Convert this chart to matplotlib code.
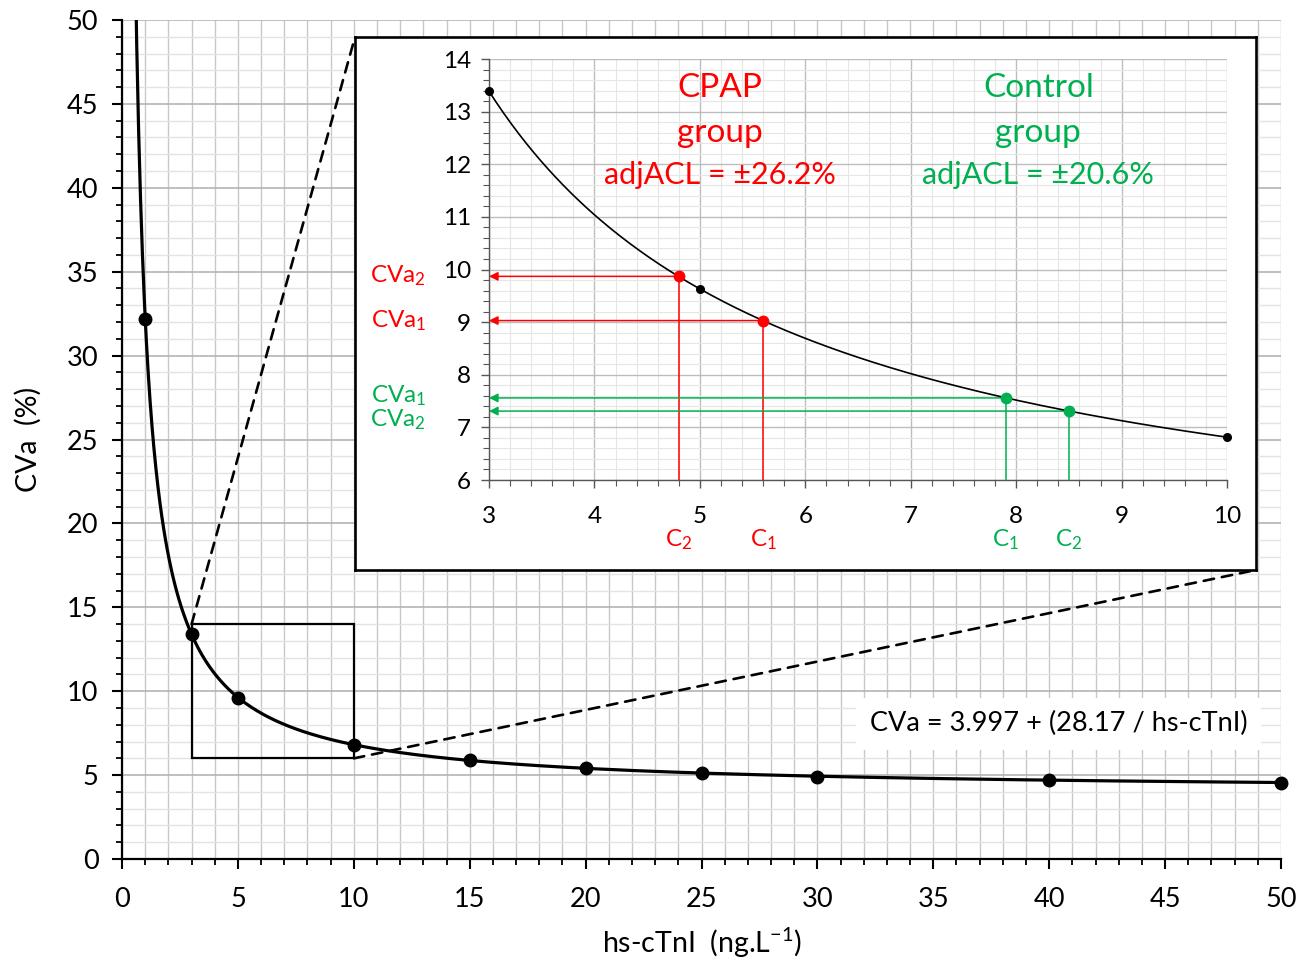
import numpy as np
import matplotlib
matplotlib.use("Agg")
import matplotlib.pyplot as plt
from matplotlib.patches import Rectangle, ConnectionPatch
from matplotlib.ticker import MultipleLocator

plt.rcParams['font.family'] = ['Lato', 'DejaVu Sans']
plt.rcParams['mathtext.default'] = 'regular'

# data
hs_ctni = [1, 3, 5, 10, 15, 20, 25, 30, 40, 50]
cva = [32.2, 13.4, 9.6, 6.8, 5.9, 5.4, 5.1, 4.9, 4.7, 4.56]
fit_a = 3.997
fit_b = 28.17
zoom_x = [3, 5, 10]
zoom_cva = [13.4, 9.63, 6.81]
cpap_c = [5.6, 4.8]
cpap_cva = [9.03, 9.87]
ctrl_c = [7.9, 8.5]
ctrl_cva = [7.56, 7.31]

RED = '#FF0000'
GREEN = '#00B050'

fig = plt.figure(figsize=(13.11, 9.61), dpi=100)

# main chart
ax = fig.add_axes([0.0931, 0.1061, 0.884, 0.8731])
xc = np.linspace(0.55, 50, 600)
ax.plot(xc, fit_a + fit_b / xc, color='black', lw=2.3, zorder=4)
ax.plot(hs_ctni, cva, 'o', color='black', ms=9, zorder=5, clip_on=False)
ax.set_xlim(0, 50)
ax.set_ylim(0, 50)
ax.xaxis.set_major_locator(MultipleLocator(5))
ax.xaxis.set_minor_locator(MultipleLocator(1))
ax.yaxis.set_major_locator(MultipleLocator(5))
ax.yaxis.set_minor_locator(MultipleLocator(1))
ax.grid(which='both', axis='x', color='#C8C8C8', lw=1.0)
ax.grid(which='major', axis='y', color='#B4B4B4', lw=1.2)
ax.grid(which='minor', axis='y', color='#E3E3E3', lw=1.0)
ax.set_axisbelow(True)
for s in ['top', 'right']:
    ax.spines[s].set_visible(False)
for s in ['left', 'bottom']:
    ax.spines[s].set_linewidth(1.6)
ax.tick_params(which='major', length=7, width=1.5, labelsize=19.5)
ax.tick_params(axis='x', which='major', pad=13)
ax.tick_params(axis='y', which='major', pad=10)
ax.tick_params(which='minor', length=4.5, width=1.3)
ax.set_xlabel('hs-cTnI  (ng.L$^{-1}$)', fontsize=20.5, labelpad=10)
ax.set_ylabel('CVa  (%)', fontsize=20.5, labelpad=18)
ax.add_patch(Rectangle((3, 6), 7, 8, fill=False, ec='black', lw=1.6, zorder=3))
ax.text(40.4, 8.05, 'CVa = 3.997 + (28.17 / hs-cTnI)', fontsize=19.5, ha='center',
        va='center', zorder=6,
        bbox=dict(boxstyle='square,pad=0.5', fc='white', ec='none'))

# frame of zoom panel
fl, fb, fr, ft = 0.2708, 0.4069, 0.958, 0.9615
frame = fig.add_axes([fl, fb, fr - fl, ft - fb], zorder=2)
frame.set_xticks([])
frame.set_yticks([])
for s in frame.spines.values():
    s.set_linewidth(1.9)

con1 = ConnectionPatch(xyA=(3, 14), coordsA=ax.transData, xyB=(fl, ft),
                       coordsB=fig.transFigure, ls=(0, (4, 3)), lw=1.9, color='black')
con2 = ConnectionPatch(xyA=(10, 6), coordsA=ax.transData, xyB=(fr, fb),
                       coordsB=fig.transFigure, ls=(0, (4, 3)), lw=1.9, color='black')
fig.add_artist(con1)
fig.add_artist(con2)

# zoom panel
ins = fig.add_axes([0.373, 0.5005, 0.563, 0.4381], zorder=3)
xi = np.linspace(3, 10, 300)
ins.plot(xi, fit_a + fit_b / xi, color='black', lw=1.2, zorder=4)
ins.plot(zoom_x, zoom_cva, 'o', color='black', ms=5.5, zorder=5, clip_on=False)
ins.set_xlim(3, 10)
ins.set_ylim(6, 14)
ins.xaxis.set_major_locator(MultipleLocator(1))
ins.xaxis.set_minor_locator(MultipleLocator(0.2))
ins.yaxis.set_major_locator(MultipleLocator(1))
ins.yaxis.set_minor_locator(MultipleLocator(0.2))
ins.grid(which='major', color='#BDBDBD', lw=1.0)
ins.grid(which='minor', color='#E6E6E6', lw=0.8)
ins.set_axisbelow(True)
for s in ['top', 'right']:
    ins.spines[s].set_visible(False)
for s in ['left', 'bottom']:
    ins.spines[s].set_color('#555555')
    ins.spines[s].set_linewidth(1.0)
ins.tick_params(which='major', length=6, width=1.0, color='#555555', labelsize=17.5)
ins.tick_params(which='minor', length=4.5, width=0.8, color='#555555')
ins.tick_params(axis='x', which='major', pad=13)
ins.tick_params(axis='y', which='major', pad=7)


def draw_group(cs, vs, color, ylab_pos):
    for i, (c, v) in enumerate(zip(cs, vs)):
        ins.annotate('', xy=(3, v), xytext=(c, v),
                     arrowprops=dict(arrowstyle='-|>', color=color, lw=1.1,
                                     mutation_scale=13, shrinkA=0, shrinkB=0),
                     zorder=3)
        ins.plot([c, c], [6, v], color=color, lw=1.1, zorder=3)
        ins.plot(c, v, 'o', color=color, ms=7.5, zorder=6)
        ins.text(c, 4.86, 'C$_{%d}$' % (i + 1), color=color, fontsize=17.5,
                 ha='center', va='center', clip_on=False)
        ins.text(2.14, ylab_pos[i], 'CVa$_{%d}$' % (i + 1), color=color,
                 fontsize=17.5, ha='center', va='center', clip_on=False)


draw_group(cpap_c, cpap_cva, RED, [9.02, 9.89])
draw_group(ctrl_c, ctrl_cva, GREEN, [7.61, 7.14])

ins.text(5.19, 13.45, 'CPAP', color=RED, fontsize=24, ha='center', va='center')
ins.text(5.19, 12.6, 'group', color=RED, fontsize=24, ha='center', va='center')
ins.text(5.19, 11.8, 'adjACL = ±26.2%', color=RED, fontsize=22, ha='center', va='center')
ins.text(8.21, 13.45, 'Control', color=GREEN, fontsize=24, ha='center', va='center')
ins.text(8.21, 12.6, 'group', color=GREEN, fontsize=24, ha='center', va='center')
ins.text(8.21, 11.8, 'adjACL = ±20.6%', color=GREEN, fontsize=22, ha='center', va='center')

fig.savefig('out.png', dpi=100)
